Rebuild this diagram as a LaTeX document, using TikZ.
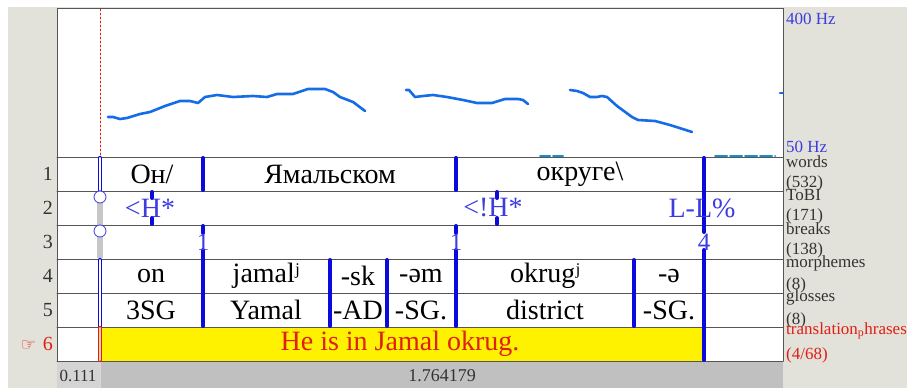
\documentclass[tikz,border=0pt]{standalone}
\usepackage{fontspec}
\setmainfont{Liberation Serif}
\newfontfamily\symfont{DejaVu Sans}
\usetikzlibrary{positioning}

\definecolor{panelgrey}{RGB}{227,226,218}
\definecolor{bargrey}{RGB}{192,192,192}
\definecolor{lightbar}{RGB}{212,212,212}
\definecolor{gridgrey}{RGB}{85,85,85}
\definecolor{tierblue}{RGB}{10,10,220}
\definecolor{toneblue}{RGB}{60,60,225}
\definecolor{pitchblue}{RGB}{20,108,230}
\definecolor{pitchcyan}{RGB}{30,140,200}
\definecolor{transred}{RGB}{225,30,20}
\definecolor{transyellow}{RGB}{255,242,0}

\begin{document}
\begin{tikzpicture}[x=1pt, y=-1pt, line cap=round,
  every node/.style={inner sep=0pt},
  bnd/.style={draw=tierblue, line width=4pt},
  startbnd/.style={draw=tierblue, line width=1.2pt, double=white, double distance=2pt},
  word/.style={font=\fontsize{28}{28}\selectfont},
  tone/.style={font=\fontsize{28}{28}\selectfont, text=toneblue},
  brk/.style={font=\fontsize{25}{25}\selectfont, text=toneblue},
  tiername/.style={anchor=west, font=\fontsize{17}{17}\selectfont, text=black!80},
  rownum/.style={anchor=east, font=\fontsize{20}{20}\selectfont, text=black!80},
  pitch/.style={draw=pitchblue, line width=2.6pt, line join=round}]

	\useasboundingbox (0,0) rectangle (907,388);
	\fill[panelgrey] (8,7) rectangle (907,388);
	\fill[white] (57,8) rectangle (783,361);
	\fill[transyellow] (100,327) rectangle (704,361);
	\fill[lightbar] (57,361) rectangle (100,388);
	\fill[bargrey] (100,361) rectangle (783,388);
	\draw[white!85!black, line width=1pt] (100,361) -- (100,388);

	% pitch track
	\draw[transred, line width=0.8pt, dash pattern=on 2pt off 2pt] (100,9) -- (100,157);
	\draw[pitch] (108,117) -- (113,117) -- (120,119) -- (127,118) -- (140,114) -- (150,112) -- (165,106) -- (180,101) -- (190,101) -- (198,103) -- (205,97) -- (217,95) -- (233,97) -- (253,96) -- (267,97) -- (277,94) -- (293,94) -- (308,89) -- (325,89) -- (333,92) -- (340,97) -- (353,102) -- (365,111);
	\draw[pitch] (406,90) -- (409,90) -- (415,97) -- (423,96) -- (433,95) -- (447,97) -- (463,100) -- (477,103) -- (492,103) -- (505,99) -- (518,99) -- (523,100) -- (528,104);
	\draw[pitch] (570,90) -- (577,91) -- (583,93) -- (590,97) -- (597,97) -- (602,96) -- (607,97) -- (617,106) -- (632,117) -- (638,120) -- (655,121) -- (670,125) -- (692,132);
	\draw[pitch] (780,93) -- (783,93);
	\draw[pitchcyan, line width=2pt, dash pattern=on 10pt off 3pt] (540,156) -- (563,156);
	\draw[pitchcyan, line width=2pt, dash pattern=on 12pt off 3pt] (715,156) -- (775,156);

	% tier grid
	\foreach \y in {157,191,225,259,293,327,361}
		\draw[gridgrey, line width=1pt] (57,\y) -- (783,\y);
	\draw[gridgrey, line width=1pt] (57,361) -- (57,8) -- (783,8) -- (783,361);

	% start of the selection
	\draw[startbnd] (100,158) -- (100,190);
	\draw[black!22, line width=6pt, line cap=butt] (100,192) -- (100,258);
	\draw[toneblue, fill=white, line width=0.8pt] (100,197) circle (6);
	\draw[toneblue, fill=white, line width=0.8pt] (100,231) circle (6);
	\draw[startbnd] (100,260) -- (100,326);
	\draw[startbnd, draw=transred, double=orange!35] (100,328) -- (100,360);

	% boundaries
	\foreach \x in {203,456} {
		\draw[bnd] (\x,158) -- (\x,190);
		\draw[bnd] (\x,226) -- (\x,233);
		\draw[bnd] (\x,250) -- (\x,326);
	}
	\foreach \x in {330,387,634}
		\draw[bnd] (\x,260) -- (\x,326);
	\foreach \x in {152,497} {
		\draw[bnd] (\x,192) -- (\x,198);
		\draw[bnd] (\x,218) -- (\x,224);
	}
	\draw[bnd] (704,158) -- (704,232);
	\draw[bnd] (704,250) -- (704,360);

	% words
	\node[word] (w1) at (152,174) {Он/};
	\node[word] (w2) at (330,174) {Ямальском};
	\node[word] (w3) at (580,174) {округе\textbackslash};

	% ToBI and breaks
	\node[tone] (t1) at (150,208) {<H*};
	\node[tone] (t2) at (493,208) {<!H*};
	\node[tone] (t3) at (702,208) {L-L\%};
	\foreach \x/\b [count=\i] in {203/1,456/1,704/4}
		\node[brk] (b\i) at (\x,242) {\b};

	% morphemes and glosses
	\foreach \x/\m/\g [count=\i] in {151/on/3SG, 266/jamalʲ/Yamal, 358/-sk/-AD, 421/-əm/-SG., 545/okrugʲ/district, 669/-ə/-SG.} {
		\node[word] (m\i) at (\x,276) {\m};
		\node[word] (g\i) at (\x,310) {\g};
	}
	\node[word, text=transred] (tr) at (400,344) {He is in Jamal okrug.};

	% row numbers
	\foreach \y [count=\i] in {174,208,242,276,310}
		\node[rownum] (r\i) at (53,\y) {\i};
	\node[rownum, text=transred] (r6) at (53,344) {{\symfont\fontsize{17}{17}\selectfont ☞}\,\,6};

	% tier names
	\node[tiername, text=toneblue] (hi) at (786,19) {400 Hz};
	\node[tiername, text=toneblue] (lo) at (786,147) {50 Hz};
	\foreach \y/\t [count=\i] in {162/words, 183/{(532)}, 195/ToBI, 216/{(171)}, 229/breaks, 250/{(138)}, 263/morphemes, 285/{(8)}, 297/glosses, 320/{(8)}}
		\node[tiername] (n\i) at (786,\y) {\t};
	\node[tiername, text=transred] (n11) at (786,331) {translation\textsubscript{p}hrases};
	\node[tiername, text=transred] (n12) at (786,355) {(4/68)};

	% time bar
	\node[tiername, anchor=center] (tstart) at (78,376) {0.111};
	\node[tiername, anchor=center, font=\fontsize{18}{18}\selectfont] (tlen) at (442,376) {1.764179};

\end{tikzpicture}
\end{document}
